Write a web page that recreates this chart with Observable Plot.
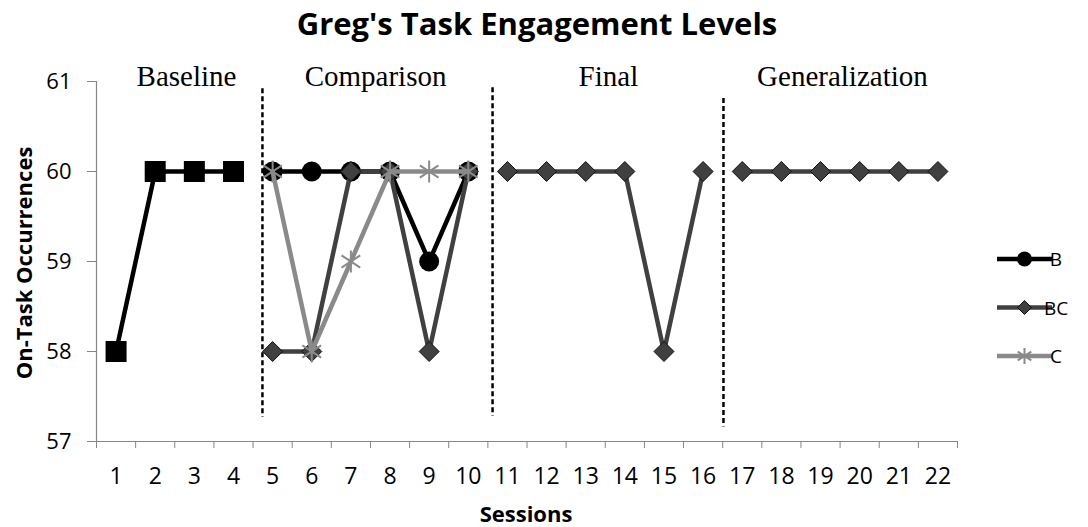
<!DOCTYPE html>
<html><head><meta charset="utf-8">
<script src="https://cdn.jsdelivr.net/npm/d3@7"></script>
<script src="https://cdn.jsdelivr.net/npm/@observablehq/plot@0.6"></script>
<style>body{margin:0;background:#fff} #chart{position:relative;width:1088px;height:527px}</style>
</head><body><div id="chart"></div>
<script>
// ---- data ----
const baselineSessions = [1, 2, 3, 4];
const baselineValues = [58, 60, 60, 60];
const comparisonSessions = [5, 6, 7, 8, 9, 10];
const bValues = [60, 60, 60, 60, 59, 60];
const bcValues = [58, 58, 60, 60, 58, 60];
const cValues = [60, 58, 59, 60, 60, 60];
const finalSessions = [11, 12, 13, 14, 15, 16];
const finalValues = [60, 60, 60, 60, 58, 60];
const generalizationSessions = [17, 18, 19, 20, 21, 22];
const generalizationValues = [60, 60, 60, 60, 60, 60];
const phaseNames = ["Baseline", "Comparison", "Final", "Generalization"];
const phaseLabelX = [2.8, 7.63, 13.58, 19.56];
const phaseBreakX = [4.74, 10.62, 16.52];
const phaseBreakTop = [60.92, 60.93, 60.81];
const phaseBreakBottom = [57.27, 57.28, 57.16];
const sessionTicks = [1,2,3,4,5,6,7,8,9,10,11,12,13,14,15,16,17,18,19,20,21,22];
const yTicks = [57, 58, 59, 60, 61];
const legendNames = ["B", "BC", "C"];
const titleText = "Greg's Task Engagement Levels";
const yTitle = "On-Task Occurrences";
const xTitle = "Sessions";

// ---- styles ----
const axisColor = "#868686";
const colB = "#000000", colBC = "#404040", colC = "#8a8a8a";
const sq = {draw(ctx, size){const r=Math.sqrt(size/Math.PI);ctx.moveTo(-r,-r);ctx.lineTo(r,-r);ctx.lineTo(r,r);ctx.lineTo(-r,r);ctx.closePath();}};
const dia = {draw(ctx, size){const r=Math.sqrt(size/Math.PI);ctx.moveTo(0,-r);ctx.lineTo(r,0);ctx.lineTo(0,r);ctx.lineTo(-r,0);ctx.closePath();}};
const star = {draw(ctx, size){const r=Math.sqrt(size/Math.PI);ctx.moveTo(0,-r);ctx.lineTo(0,r);const a=r*0.85,b=r*0.55;ctx.moveTo(-a,-b);ctx.lineTo(a,b);ctx.moveTo(-a,b);ctx.lineTo(a,-b);}};

const rows = (xs, ys, series) => xs.map((x, i) => ({session: x, value: ys[i], series}));
const baseline = rows(baselineSessions, baselineValues, "Baseline");
const B = rows(comparisonSessions, bValues, "B");
const BC = rows(comparisonSessions, bcValues, "BC");
const C = rows(comparisonSessions, cValues, "C");
const finalR = rows(finalSessions, finalValues, "BC");
const genR = rows(generalizationSessions, generalizationValues, "BC");
const boundaries = sessionTicks.map(s => s - 0.5).concat([sessionTicks[sessionTicks.length-1] + 0.5]);

const lineOpts = (stroke, w) => ({x: "session", y: "value", stroke, strokeWidth: w});
const plot = Plot.plot({
  width: 1088, height: 527,
  marginLeft: 96, marginRight: 131, marginTop: 81, marginBottom: 86,
  x: {domain: [0.5, 22.5], label: null},
  y: {domain: [57, 61], label: null},
  style: {fontFamily: "'Open Sans'", background: "#fff", color: "#000"},
  marks: [
    Plot.ruleY([57], {stroke: axisColor, strokeWidth: 1.2}),
    Plot.ruleX([0.5], {stroke: axisColor, strokeWidth: 1.2}),
    Plot.axisX(boundaries, {tickSize: 7, tickFormat: () => "", stroke: axisColor, label: null}),
    Plot.axisX(sessionTicks, {tickSize: 0, tickPadding: 26, fontSize: 23, fill: "#000", label: null, tickFormat: d => String(d)}),
    Plot.axisY(yTicks, {tickSize: 9, tickPadding: 16, fontSize: 22, fill: "#000", stroke: axisColor, label: null, tickFormat: d => String(d)}),
    Plot.ruleX(phaseBreakX, {y1: phaseBreakTop, y2: phaseBreakBottom, stroke: "#000", strokeWidth: 2.5, strokeDasharray: "5,3"}),
    Plot.text(phaseNames, {x: phaseLabelX, y: 61, text: d => d, fontFamily: "'Liberation Serif'", fontSize: 29, dy: -5, lineAnchor: "middle", fill: "#000"}),
    Plot.line(baseline, lineOpts(colB, 4.5)),
    Plot.dot(baseline, {x: "session", y: "value", symbol: sq, r: 10.5, fill: colB, stroke: "none"}),
    Plot.line(B, lineOpts(colB, 4.5)),
    Plot.dot(B, {x: "session", y: "value", symbol: "circle", r: 10, fill: colB, stroke: "none"}),
    Plot.line(BC, lineOpts(colBC, 4.5)),
    Plot.dot(BC, {x: "session", y: "value", symbol: dia, r: 10, fill: colBC, stroke: "#111", strokeWidth: 1}),
    Plot.line(C, lineOpts(colC, 4.5)),
    Plot.dot(C, {x: "session", y: "value", symbol: star, r: 11, fill: "none", stroke: colC, strokeWidth: 2}),
    Plot.line(finalR, lineOpts(colBC, 4.5)),
    Plot.dot(finalR, {x: "session", y: "value", symbol: dia, r: 10, fill: colBC, stroke: "#111", strokeWidth: 1}),
    Plot.line(genR, lineOpts(colBC, 4.5)),
    Plot.dot(genR, {x: "session", y: "value", symbol: dia, r: 10, fill: colBC, stroke: "#111", strokeWidth: 1})
  ]
});
document.getElementById("chart").appendChild(plot);

// ---- overlay: titles and legend ----
const svg = d3.select(plot);
svg.append("text").attr("x", 537).attr("y", 35).attr("text-anchor", "middle")
  .attr("font-family", "'Open Sans'").attr("font-weight", "bold").attr("font-size", 31).attr("fill", "#000").text(titleText);
svg.append("text").attr("transform", "translate(32,263) rotate(-90)").attr("text-anchor", "middle")
  .attr("font-family", "'Open Sans'").attr("font-weight", "bold").attr("font-size", 22).attr("fill", "#000").text(yTitle);
svg.append("text").attr("x", 526).attr("y", 522).attr("text-anchor", "middle")
  .attr("font-family", "'Open Sans'").attr("font-weight", "bold").attr("font-size", 22).attr("fill", "#000").text(xTitle);

const legendStyles = [
  {color: colB, symbol: d3.symbolCircle, r: 7.5, fill: colB, stroke: "none", sw: 0},
  {color: colBC, symbol: dia, r: 7, fill: colBC, stroke: "#111", sw: 1},
  {color: colC, symbol: star, r: 8, fill: "none", stroke: colC, sw: 2}
];
const lg = svg.append("g");
legendNames.forEach((name, i) => {
  const st = legendStyles[i];
  const y = 259 + i * 48.5;
  const g = lg.append("g").attr("transform", `translate(0,${y})`);
  g.append("line").attr("x1", 997).attr("x2", 1052).attr("y1", 0).attr("y2", 0).attr("stroke", st.color).attr("stroke-width", 4.5);
  g.append("path").attr("transform", "translate(1024.5,0)").attr("d", d3.symbol(st.symbol, st.r * st.r * Math.PI)())
    .attr("fill", st.fill).attr("stroke", st.stroke).attr("stroke-width", st.sw);
  g.append("text").attr("x", 1056).attr("y", 7).attr("font-family", "'Open Sans'").attr("font-size", 19).attr("fill", "#000").text(name);
});
</script></body></html>
